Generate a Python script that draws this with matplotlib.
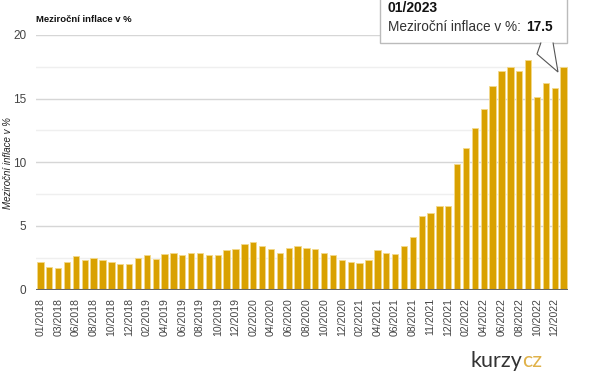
import matplotlib.pyplot as plt
from matplotlib.patches import Rectangle, Polygon
import numpy as np

plt.rcParams['font.family'] = ['Liberation Sans', 'DejaVu Sans']

# month labels of the bars (source data skips 04/2018 and 09/2021, repeats 12/2021)
months = (["01/2018", "02/2018", "03/2018", "05/2018", "06/2018", "07/2018", "08/2018",
           "09/2018", "10/2018", "11/2018", "12/2018"]
          + [f"{m:02d}/2019" for m in range(1, 13)]
          + [f"{m:02d}/2020" for m in range(1, 13)]
          + ["01/2021", "02/2021", "03/2021", "04/2021", "05/2021", "06/2021", "07/2021",
             "08/2021", "10/2021", "11/2021", "12/2021", "12/2021"]
          + [f"{m:02d}/2022" for m in range(1, 13)]
          + ["01/2023"])

inflation = [2.2, 1.8, 1.7, 2.2, 2.6, 2.3, 2.5, 2.3, 2.2, 2.0, 2.0,
             2.5, 2.7, 2.4, 2.8, 2.9, 2.7, 2.9, 2.9, 2.7, 2.7, 3.1, 3.2,
             3.6, 3.7, 3.4, 3.2, 2.9, 3.3, 3.4, 3.3, 3.2, 2.9, 2.7, 2.3,
             2.2, 2.1, 2.3, 3.1, 2.9, 2.8, 3.4, 4.1, 5.8, 6.0, 6.6, 6.6,
             9.9, 11.1, 12.7, 14.2, 16.0, 17.2, 17.5, 17.2, 18.0, 15.1, 16.2, 15.8,
             17.5]

W, H = 600, 383
fig = plt.figure(figsize=(W / 100, H / 100), dpi=100)
ax = fig.add_axes([36 / W, 1 - 289.5 / H, (568 - 36) / W, (289.5 - 35) / H])

x = np.arange(len(inflation))
ax.bar(x, inflation, width=0.72, color='#d9a100', edgecolor='#f3d98c', linewidth=0.6, zorder=3)

ax.set_xlim(-0.5, len(inflation) - 0.5)
ax.set_ylim(0, 20)
ax.set_yticks([0, 5, 10, 15, 20])
ax.set_yticks([2.5, 7.5, 12.5, 17.5], minor=True)
ax.grid(axis='y', which='major', color='#d6d6d6', linewidth=1, zorder=0)
ax.grid(axis='y', which='minor', color='#efefef', linewidth=1, zorder=0)
ax.axhline(0, color='#666666', linewidth=1.5, zorder=4)

for s in ax.spines.values():
    s.set_visible(False)
ax.tick_params(axis='y', which='both', length=0, pad=7, labelsize=8.5, labelcolor='#444444')
ax.set_xticks(x[::2])
ax.set_xticklabels(months[::2], rotation=90, fontsize=7.6, color='#444444')
ax.tick_params(axis='x', length=0, pad=6)


def fx(px):
    return px / W


def fy(py):
    return 1 - py / H


fig.text(fx(8), fy(163), "Meziroční inflace v %", fontsize=7, style='italic', color='#222222',
         rotation=90, ha='center', va='center')
fig.text(fx(36), fy(19), "Meziroční inflace v %", fontsize=6.8, fontweight='bold',
         color='#111111', va='center')

renderer = fig.canvas.get_renderer()

# tooltip
box = Rectangle((fx(380), fy(43)), fx(567) - fx(380), fy(-5) - fy(43), transform=fig.transFigure,
                facecolor='white', edgecolor='#bbbbbb', linewidth=1, zorder=10)
fig.add_artist(box)
tail = Polygon([(fx(541), fy(42.5)), (fx(537), fy(54)), (fx(558), fy(72)), (fx(553), fy(42.5))],
               closed=False, transform=fig.transFigure, facecolor='white', edgecolor='#555555',
               linewidth=0.8, zorder=11)
fig.add_artist(tail)
fig.text(fx(388), fy(8), "01/2023", fontsize=10, fontweight='bold', color='#111111', va='center', zorder=12)
lab = fig.text(fx(388), fy(27), "Meziroční inflace v %:", fontsize=9.8, color='#333333',
               va='center', zorder=12)
bb = lab.get_window_extent(renderer)
fig.text(bb.x1 / W + fx(5), fy(27), "17.5", fontsize=9.8, fontweight='bold', color='#111111',
         va='center', zorder=12)

# watermark
wm = fig.text(fx(470), fy(361), "kurzy", fontsize=15.5, color='#333333', va='center',
              family=['Lato', 'DejaVu Sans'])
bb = wm.get_window_extent(renderer)
fig.text(bb.x1 / W, fy(361), "cz", fontsize=15.5, color='#e0b24a', va='center',
         family=['Lato', 'DejaVu Sans'])

fig.savefig("out.png", dpi=100)
